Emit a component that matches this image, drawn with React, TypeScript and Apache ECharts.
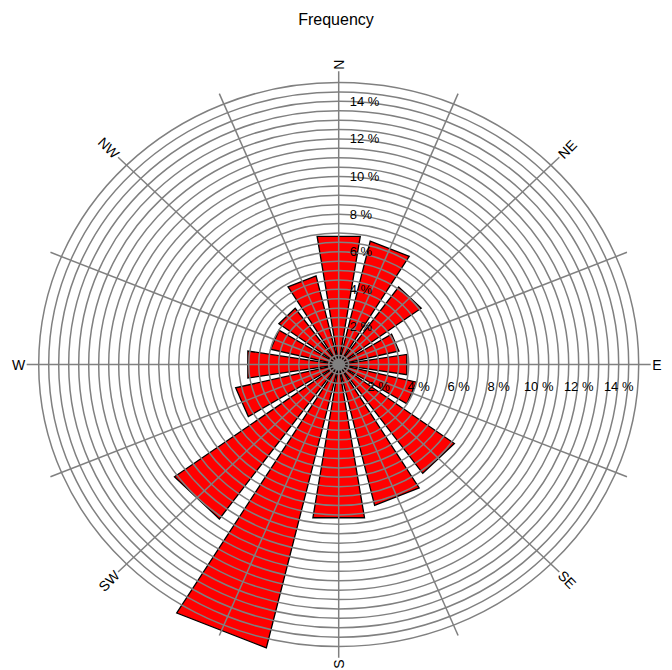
import React, { useEffect, useRef } from "react";
import * as echarts from "echarts";

// 16 wind directions (degrees clockwise from north) and frequency (%)
const directions = ["N", "NNE", "NE", "ENE", "E", "ESE", "SE", "SSE", "S", "SSW", "SW", "WSW", "W", "WNW", "NW", "NNW"];
const dirAngles = [0, 22.5, 45, 67.5, 90, 112.5, 135, 157.5, 180, 202.5, 225, 247.5, 270, 292.5, 315, 337.5];
const frequency = [6.9, 6.75, 5.1, 3.1, 3.45, 4.0, 7.15, 7.7, 8.25, 15.5, 10.15, 5.3, 4.6, 3.5, 3.7, 4.85];

// grid rings (%) and labelled ticks
const ringLevels = [0.5, 1, 1.5, 2, 2.5, 3, 3.5, 4, 4.5, 5, 5.5, 6, 6.5, 7, 7.5, 8, 8.5, 9, 9.5, 10, 10.5, 11, 11.5, 12, 12.5, 13, 13.5, 14, 14.5, 15];
const pctTicks = [2, 4, 6, 8, 10, 12, 14];
const spokeLength = 15.6;

// compass labels (text runs along the spoke, starting just past its end)
const compassNames = ["N", "NE", "E", "SE", "S", "SW", "W", "NW"];
const compassAngles = [0, 45, 90, 135, 180, 225, 270, 315];
const compassRotation = [90, 45, 0, -45, 90, 45, 0, -45];
const compassAlign = ["left", "left", "left", "left", "right", "right", "right", "right"];
const labelRadius = 15.68;

const HALF_WIDTH = 9; // degrees
const RAD = Math.PI / 180;
const GRAY = "#808080";
const FONT = "'Liberation Sans', Arial, sans-serif";

export default function App() {
  const ref = useRef<HTMLDivElement>(null);

  useEffect(() => {
    if (!ref.current) return;
    const chart = echarts.init(ref.current, null, { renderer: "svg" });

    const polarPt = (api: any, angDeg: number, r: number) =>
      api.coord([r * Math.sin(angDeg * RAD), r * Math.cos(angDeg * RAD)]);

    const option: any = {
      animation: false,
      backgroundColor: "#ffffff",
      title: {
        text: "Frequency",
        left: "center",
        top: 6,
        textStyle: { fontSize: 16, fontWeight: "normal", color: "#000", fontFamily: FONT },
      },
      grid: { left: 14.7, top: 60, width: 648, height: 609.1, containLabel: false },
      xAxis: { type: "value", min: -16.2, max: 16.2, show: false, splitLine: { show: false } },
      yAxis: { type: "value", min: -16.2, max: 16.2, show: false, splitLine: { show: false } },
      series: [
        {
          type: "custom",
          name: "bars",
          coordinateSystem: "cartesian2d",
          clip: false,
          data: dirAngles.map((a, i) => [a, frequency[i]]),
          renderItem: (params: any, api: any) => {
            const th = api.value(0);
            const r = api.value(1);
            const c = api.coord([0, 0]);
            const p1 = polarPt(api, th - HALF_WIDTH, r);
            const p2 = polarPt(api, th + HALF_WIDTH, r);
            return {
              type: "polygon",
              shape: { points: [c, p1, p2] },
              style: { fill: "#ff0000", stroke: "#000000", lineWidth: 1.3, lineJoin: "miter" },
            };
          },
        },
        {
          type: "custom",
          name: "rings",
          coordinateSystem: "cartesian2d",
          clip: false,
          silent: true,
          data: ringLevels.map((r) => [r, 0]),
          renderItem: (params: any, api: any) => {
            const r = api.value(0);
            const c = api.coord([0, 0]);
            const s = api.size([r, r]);
            return {
              type: "ellipse",
              shape: { cx: c[0], cy: c[1], rx: Math.abs(s[0]), ry: Math.abs(s[1]) },
              style: { fill: "none", stroke: GRAY, lineWidth: 1.5 },
            };
          },
        },
        {
          type: "custom",
          name: "spokes",
          coordinateSystem: "cartesian2d",
          clip: false,
          silent: true,
          data: dirAngles.map((a) => [a, spokeLength]),
          renderItem: (params: any, api: any) => {
            const c = api.coord([0, 0]);
            const p = polarPt(api, api.value(0), api.value(1));
            return {
              type: "line",
              shape: { x1: c[0], y1: c[1], x2: p[0], y2: p[1] },
              style: { stroke: GRAY, lineWidth: 1.5 },
            };
          },
        },
        {
          type: "custom",
          name: "hub",
          coordinateSystem: "cartesian2d",
          clip: false,
          silent: true,
          data: [[0.32, 0]],
          renderItem: (params: any, api: any) => {
            const c = api.coord([0, 0]);
            const s = api.size([api.value(0), api.value(0)]);
            return {
              type: "ellipse",
              shape: { cx: c[0], cy: c[1], rx: Math.abs(s[0]), ry: Math.abs(s[1]) },
              style: { fill: GRAY },
            };
          },
        },
        {
          type: "custom",
          name: "pctLabels",
          coordinateSystem: "cartesian2d",
          clip: false,
          silent: true,
          data: pctTicks.map((t) => [t, 0]),
          renderItem: (params: any, api: any) => {
            const t = api.value(0);
            const pv = api.coord([0, t]);
            const ph = api.coord([t, 0]);
            const txt = t + " %";
            return {
              type: "group",
              children: [
                {
                  type: "text",
                  x: pv[0] + 11,
                  y: pv[1],
                  style: { text: txt, fill: "#000", fontSize: 13, fontFamily: FONT, align: "left", verticalAlign: "middle" },
                },
                {
                  type: "text",
                  x: ph[0],
                  y: ph[1] + 22,
                  style: { text: txt, fill: "#000", fontSize: 13, fontFamily: FONT, align: "center", verticalAlign: "middle" },
                },
              ],
            };
          },
        },
        {
          type: "custom",
          name: "compass",
          coordinateSystem: "cartesian2d",
          clip: false,
          silent: true,
          data: compassAngles.map((a, i) => [a, compassRotation[i]]),
          renderItem: (params: any, api: any) => {
            const p = polarPt(api, api.value(0), labelRadius);
            return {
              type: "text",
              x: p[0],
              y: p[1],
              rotation: api.value(1) * RAD,
              style: {
                text: compassNames[params.dataIndex],
                fill: "#000",
                fontSize: 14,
                fontFamily: FONT,
                align: compassAlign[params.dataIndex],
                verticalAlign: "middle",
              },
            };
          },
        },
      ],
    };

    chart.setOption(option);
    return () => chart.dispose();
  }, []);

  return (
    <div
      ref={ref}
      style={{ position: "absolute", left: 0, top: 0, width: 672, height: 670, background: "#fff" }}
    />
  );
}
